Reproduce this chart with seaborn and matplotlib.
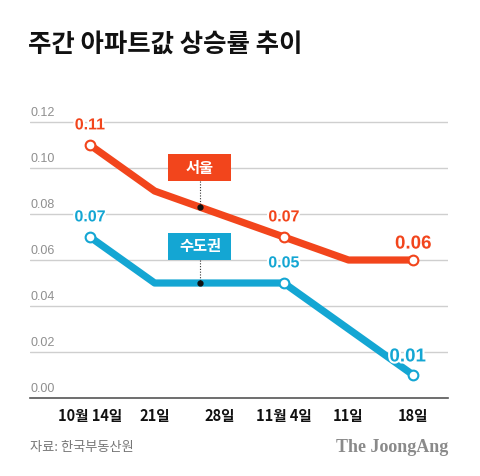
import matplotlib
matplotlib.use("Agg")
import matplotlib.pyplot as plt
import matplotlib.patheffects as pe
from matplotlib.patches import Rectangle
import seaborn as sns
import pandas as pd

# 데이터
weeks = ["10월 14일", "21일", "28일", "11월 4일", "11일", "18일"]
seoul = [0.11, 0.09, 0.08, 0.07, 0.06, 0.06]
capital = [0.07, 0.05, 0.05, 0.05, 0.03, 0.01]
series_names = ["서울", "수도권"]
y_ticks = [0.00, 0.02, 0.04, 0.06, 0.08, 0.10, 0.12]
marked = [0, 3, 5]  # 값 표시하는 지점

RED = "#f2451c"
BLUE = "#14a6d3"

sns.set_style("white")
plt.rcParams["font.family"] = ["Noto Sans CJK KR", "DejaVu Sans"]

df = pd.DataFrame({
    "x": list(range(len(weeks))) * 2,
    "value": seoul + capital,
    "series": [series_names[0]] * len(weeks) + [series_names[1]] * len(weeks),
})

fig = plt.figure(figsize=(4.8, 4.76), dpi=100)
ax = fig.add_axes([0.0625, 0.1639, 0.871, 0.628])

sns.lineplot(data=df, x="x", y="value", hue="series",
             palette={series_names[0]: RED, series_names[1]: BLUE},
             linewidth=5.2, legend=False, ax=ax,
             solid_joinstyle="round", solid_capstyle="butt", zorder=3)

# 흰 원 마커
for vals, col in [(seoul, RED), (capital, BLUE)]:
    ax.plot([i for i in marked], [vals[i] for i in marked], "o", ms=7,
            mfc="white", mec=col, mew=1.5, zorder=4)

# 값 라벨
for vals, col in [(seoul, RED), (capital, BLUE)]:
    for i in marked:
        last = i == len(weeks) - 1
        dx, dy = 0, 14.5
        if last:
            dy = 11.5
            if col == BLUE:
                dx, dy = -4, 13
        t = ax.annotate(f"{vals[i]:.2f}", (i, vals[i]), xytext=(dx, dy),
                        textcoords="offset points", ha="center", va="center",
                        color=col, fontsize=13.5 if last else 11.5, fontweight="bold",
                        fontfamily=["Liberation Sans", "DejaVu Sans"], zorder=5)
        t.set_path_effects([pe.withStroke(linewidth=3, foreground="white")])

ax.set_xlim(-0.929, 5.54)
ax.set_ylim(0, 0.13)

# 그리드 + y축 라벨 (선 위, 왼쪽 정렬)
for v in y_ticks[1:]:
    ax.axhline(v, color="#cfcfcf", lw=1, zorder=1)
for v in y_ticks:
    ax.text(-0.929, v + 0.0012, f"{v:.2f}", ha="left", va="bottom",
            fontsize=9, color="#8f8f8f",
            fontfamily=["Liberation Sans", "DejaVu Sans"])
ax.set_yticks([])

ax.set_xticks(range(len(weeks)))
ax.set_xticklabels(weeks, fontsize=10.5, fontweight="bold", color="#111111")
ax.tick_params(axis="x", direction="in", length=6, width=1, color="#555555", pad=7)
ax.set_xlabel("")
ax.set_ylabel("")
for s in ["top", "right", "left"]:
    ax.spines[s].set_visible(False)
ax.spines["bottom"].set_color("#555555")
ax.spines["bottom"].set_linewidth(1.2)

# 범례 박스
box_x = 1.7
box_w, box_h = 0.975, 0.0117
for name, col, yc, vals in [(series_names[0], RED, 0.1002, seoul),
                            (series_names[1], BLUE, 0.0659, capital)]:
    y_on = vals[1] + (vals[2] - vals[1]) * (box_x - 1)
    ax.plot([box_x, box_x], [yc - box_h / 2, y_on], ls=(0, (1, 1.5)), lw=0.8,
            color="#333333", zorder=5)
    ax.plot(box_x, y_on, "o", ms=3.5, color="#111111", zorder=6)
    ax.add_patch(Rectangle((box_x - box_w / 2, yc - box_h / 2), box_w, box_h,
                           facecolor=col, edgecolor="none", zorder=6))
    ax.text(box_x, yc, name, ha="center", va="center", color="white",
            fontsize=11, fontweight="bold", zorder=7)

fig.text(0.058, 0.9076, "주간 아파트값 상승률 추이", ha="left", va="center",
         fontsize=18.3, fontweight="heavy", color="#111111")
fig.text(0.0625, 1 - 448 / 476, "자료: 한국부동산원", ha="left", va="center",
         fontsize=9.5, color="#777777")
fig.text(0.933, 1 - 448 / 476, "The JoongAng", ha="right", va="center",
         fontsize=13, fontweight="bold", color="#8a8a8a",
         fontfamily=["Liberation Serif", "DejaVu Serif"])

fig.savefig("out.png", dpi=100)
